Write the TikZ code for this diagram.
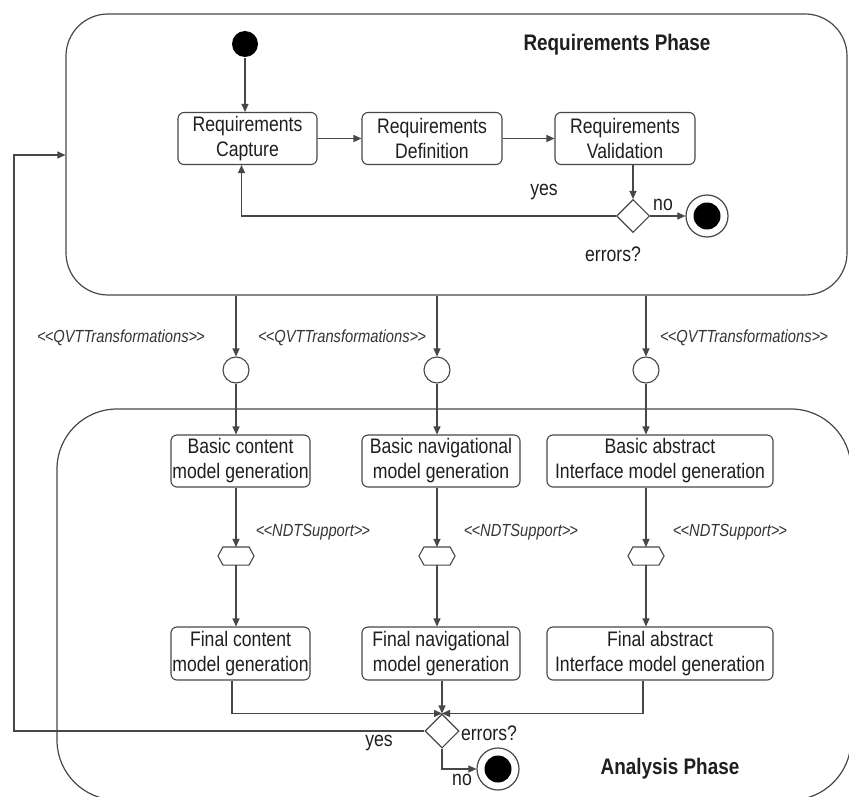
\documentclass[tikz,border=0pt]{standalone}
\usepackage{fontspec}
\setmainfont[FakeStretch=0.84]{Liberation Sans}
\usetikzlibrary{arrows.meta,shapes.geometric,calc}
\colorlet{lc}{black!72}
\colorlet{txt}{black!88}
\newcommand\dlt{<\kern-1pt<}
\newcommand\dgt{>\kern-1pt>}
\begin{document}
\begin{tikzpicture}[x=1pt,y=-1pt,line width=1.1pt,
  container/.style={draw=lc,inner sep=0pt,line width=1.2pt},
  box/.style={draw=lc,rounded corners=6pt,align=center,inner sep=0pt,
    minimum height=52pt,text=txt,font=\fontsize{21}{25}\selectfont},
  arr/.style={draw=lc,-{Triangle[length=8pt,width=7pt]}},
  ln/.style={draw=lc},
  lbl/.style={text=txt,font=\fontsize{21}{25}\selectfont,inner sep=0pt},
  stereo/.style={text=txt!90,font=\itshape\fontsize{17.5}{20}\selectfont,inner sep=0pt},
  phase/.style={text=txt,font=\bfseries\fontsize{22.5}{26}\selectfont,inner sep=0pt},
  dec/.style={draw=lc,fill=white,diamond,inner sep=0pt,minimum width=33pt,minimum height=33pt},
  obj/.style={draw=lc,circle,inner sep=0pt,minimum size=26pt},
  hexa/.style={inner sep=0pt,minimum width=35pt,minimum height=17pt},
  endring/.style={draw=lc,circle,inner sep=0pt,minimum size=42pt,line width=1.2pt},
  enddot/.style={fill=black,circle,inner sep=0pt,minimum size=27pt},
  startdot/.style={fill=black,circle,inner sep=0pt,minimum size=26pt}]
\useasboundingbox (0,0) rectangle (849,797);
\clip (0,0) rectangle (849,797);
\fill[white] (0,0) rectangle (849,797);

% containers
\node[container,rounded corners=42pt,minimum width=781pt,minimum height=281pt] (req) at (456.5,154.5) {};
\node[container,rounded corners=60pt,minimum width=794pt,minimum height=391pt] (ana) at (454,604.5) {};
\node[phase] (reqt) at (617,45) {Requirements Phase};
\node[phase] (anat) at (670,769) {Analysis Phase};

% requirements phase
\node[startdot] (start) at (245,44) {};
\node[box,minimum width=139pt] (rc) at (247.5,138.5) {Requirements\\Capture};
\node[box,minimum width=140pt] (rd) at (432,138.5) {Requirements\\Definition};
\node[box,minimum width=140pt] (rv) at (625,138.5) {Requirements\\Validation};
\node[dec] (d1) at (633,216) {};
\node[endring] (end1) at (707,216) {};
\node[enddot] (end1c) at (end1) {};
\node[lbl] (yes1) at (544,192) {yes};
\node[lbl] (no1) at (663,205) {no};
\node[lbl] (err1) at (613,254) {errors?};

\draw[arr] (start) -- (start |- rc.north);
\draw[arr] (rc) -- (rd);
\draw[arr] (rd) -- (rv);
\draw[arr] (rv.south -| d1) -- (d1.north);
\draw[arr] (d1.west) -| ([xshift=-6pt]rc.south);
\draw[arr] (d1.east) -- (end1.west);

% transformations
\node[obj] (q1) at (236,370) {};
\node[obj] (q2) at (437,370) {};
\node[obj] (q3) at (646,370) {};
\node[stereo] (s1) at (121,338) {\dlt QVTTransformations\dgt};
\node[stereo] (s2) at (342,338) {\dlt QVTTransformations\dgt};
\node[stereo] (s3) at (744,338) {\dlt QVTTransformations\dgt};
\foreach \q in {q1,q2,q3}{
  \draw[arr] (req.south -| \q) -- (\q.north);
}

% analysis phase
\node[box,minimum width=139pt] (bc) at (240.5,461) {Basic content\\model generation};
\node[box,minimum width=158pt] (bn) at (441,461) {Basic navigational\\model generation};
\node[box,minimum width=226pt] (ba) at (660,461) {Basic abstract\\Interface model generation};
\node[box,minimum width=139pt,minimum height=53pt] (fc) at (240.5,653.5) {Final content\\model generation};
\node[box,minimum width=158pt,minimum height=53pt] (fn) at (441,653.5) {Final navigational\\model generation};
\node[box,minimum width=226pt,minimum height=53pt] (fa) at (660,653.5) {Final abstract\\Interface model generation};

\draw[arr] (q1.south) -- (q1 |- bc.north);
\draw[arr] (q2.south) -- (q2 |- bn.north);
\draw[arr] (q3.south) -- (q3 |- ba.north);

\node[hexa] (h1) at (236,556) {};
\node[hexa] (h2) at (437,556) {};
\node[hexa] (h3) at (646,556) {};
\foreach \h in {h1,h2,h3}{
  \draw[ln,fill=white] (\h.west) -- ($(\h.north west)+(5,0)$) -- ($(\h.north east)+(-5,0)$)
    -- (\h.east) -- ($(\h.south east)+(-5,0)$) -- ($(\h.south west)+(5,0)$) -- cycle;
}
\node[stereo] (n1) at (313,532) {\dlt NDTSupport\dgt};
\node[stereo] (n2) at (521,532) {\dlt NDTSupport\dgt};
\node[stereo] (n3) at (730,532) {\dlt NDTSupport\dgt};

\draw[arr] (bc.south -| h1) -- (h1.north);
\draw[arr] (bn.south -| h2) -- (h2.north);
\draw[arr] (ba.south -| h3) -- (h3.north);
\draw[arr] (h1.south) -- (h1 |- fc.north);
\draw[arr] (h2.south) -- (h2 |- fn.north);
\draw[arr] (h3.south) -- (h3 |- fa.north);

\node[dec,minimum width=34pt,minimum height=34pt] (d2) at (442,731) {};
\node[endring] (end2) at (498,769) {};
\node[enddot] (end2c) at (end2) {};
\node[lbl] (yes2) at (379,743) {yes};
\node[lbl] (err2) at (489,733) {errors?};
\node[lbl] (no2) at (462,780) {no};

\draw[arr] ([xshift=-8.5pt]fc.south) |- (d2.north);
\draw[arr] (fn.south -| d2) -- (d2.north);
\draw[arr] ([xshift=-17pt]fa.south) |- (d2.north);
\coordinate (fbc) at (14,155);
\draw[arr] (d2.west) -| (fbc) -- (fbc -| req.west);
\draw[arr] (d2.south) |- (end2.west);
\end{tikzpicture}
\end{document}
